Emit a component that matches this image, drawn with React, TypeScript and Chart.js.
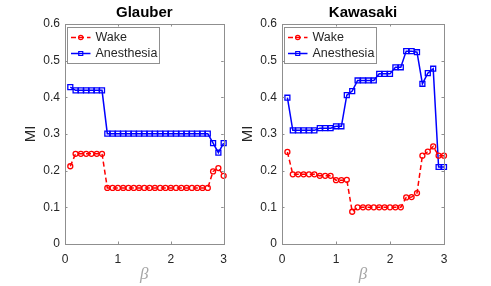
import React, { useEffect, useRef } from "react";
import { Chart, registerables } from "chart.js";

Chart.register(...registerables);

const beta = [0.1, 0.2, 0.3, 0.4, 0.5, 0.6, 0.7, 0.8, 0.9, 1.0, 1.1, 1.2, 1.3, 1.4, 1.5, 1.6, 1.7, 1.8, 1.9, 2.0, 2.1, 2.2, 2.3, 2.4, 2.5, 2.6, 2.7, 2.8, 2.9, 3.0];

const glauberWake = [0.212, 0.246, 0.246, 0.246, 0.246, 0.246, 0.246, 0.153, 0.153, 0.153, 0.153, 0.153, 0.153, 0.153, 0.153, 0.153, 0.153, 0.153, 0.153, 0.153, 0.153, 0.153, 0.153, 0.153, 0.153, 0.153, 0.153, 0.198, 0.207, 0.186];
const glauberAnesthesia = [0.428, 0.419, 0.419, 0.419, 0.419, 0.419, 0.419, 0.301, 0.301, 0.301, 0.301, 0.301, 0.301, 0.301, 0.301, 0.301, 0.301, 0.301, 0.301, 0.301, 0.301, 0.301, 0.301, 0.301, 0.301, 0.301, 0.301, 0.275, 0.249, 0.275];

const kawasakiWake = [0.251, 0.19, 0.19, 0.19, 0.19, 0.19, 0.186, 0.186, 0.186, 0.174, 0.174, 0.175, 0.088, 0.1, 0.1, 0.1, 0.1, 0.1, 0.1, 0.1, 0.1, 0.1, 0.127, 0.128, 0.139, 0.241, 0.252, 0.266, 0.241, 0.241];
const kawasakiAnesthesia = [0.399, 0.31, 0.31, 0.31, 0.31, 0.31, 0.316, 0.316, 0.316, 0.321, 0.321, 0.406, 0.417, 0.446, 0.446, 0.446, 0.446, 0.464, 0.464, 0.464, 0.482, 0.482, 0.526, 0.526, 0.523, 0.437, 0.466, 0.478, 0.21, 0.21];

const seriesLabels = ["Wake", "Anesthesia"];
const panelTitles = ["Glauber", "Kawasaki"];
const yTitle = "MI";
const xTitle = "β";

const FONT = "'Liberation Sans', Arial, Helvetica, sans-serif";
const TEXT = "#262626";
const BOX = "#8f8f8f";
const RED = "#ff0000";
const BLUE = "#0000ff";

const matlabPlugin = {
  id: "matlabDecor",
  afterDraw(chart: any) {
    const ctx = chart.ctx as CanvasRenderingContext2D;
    const a = chart.chartArea;
    const xs = chart.scales.x;
    const ys = chart.scales.y;
    const o = chart.options.plugins.matlabDecor || {};
    ctx.save();
    ctx.strokeStyle = BOX;
    ctx.lineWidth = 1;
    ctx.strokeRect(Math.round(a.left) + 0.5, Math.round(a.top) + 0.5, Math.round(a.right - a.left), Math.round(a.bottom - a.top));
    ctx.beginPath();
    const tl = 2.5;
    xs.ticks.forEach((t: any) => {
      const px = Math.round(xs.getPixelForValue(t.value)) + 0.5;
      ctx.moveTo(px, a.bottom);
      ctx.lineTo(px, a.bottom - tl);
      ctx.moveTo(px, a.top);
      ctx.lineTo(px, a.top + tl);
    });
    ys.ticks.forEach((t: any) => {
      const py = Math.round(ys.getPixelForValue(t.value)) + 0.5;
      ctx.moveTo(a.left, py);
      ctx.lineTo(a.left + tl, py);
      ctx.moveTo(a.right, py);
      ctx.lineTo(a.right - tl, py);
    });
    ctx.stroke();

    ctx.fillStyle = "#000";
    ctx.font = `bold 15px ${FONT}`;
    ctx.textAlign = "center";
    ctx.textBaseline = "middle";
    ctx.fillText(o.title || "", (a.left + a.right) / 2, 13);

    ctx.save();
    ctx.translate(a.left - 34, (a.top + a.bottom) / 2);
    ctx.rotate(-Math.PI / 2);
    ctx.fillStyle = TEXT;
    ctx.font = `15px ${FONT}`;
    ctx.fillText(yTitle, 0, 0);
    ctx.restore();

    ctx.fillStyle = "#a6a6a6";
    ctx.font = `italic 17px 'Liberation Serif', 'DejaVu Serif', serif`;
    ctx.textAlign = "center";
    ctx.textBaseline = "middle";
    ctx.fillText(xTitle, (a.left + a.right) / 2, 275);

    const lx = Math.round(a.left) + 2.5;
    const ly = Math.round(a.top) + 3.5;
    const lw = 92;
    const lh = 36;
    ctx.fillStyle = "#fff";
    ctx.fillRect(lx, ly, lw, lh);
    ctx.strokeStyle = BOX;
    ctx.lineWidth = 1;
    ctx.strokeRect(lx, ly, lw, lh);
    chart.data.datasets.forEach((ds: any, i: number) => {
      const cy = ly + 10 + i * 16;
      const x0 = lx + 3.5;
      const x1 = lx + 23;
      ctx.save();
      ctx.strokeStyle = ds.borderColor;
      ctx.lineWidth = ds.borderWidth;
      ctx.setLineDash(ds.borderDash || []);
      ctx.beginPath();
      ctx.moveTo(x0, cy);
      ctx.lineTo(x1, cy);
      ctx.stroke();
      ctx.setLineDash([]);
      ctx.lineWidth = 1.2;
      const cx = (x0 + x1) / 2;
      ctx.beginPath();
      if (ds.pointStyle === "rect") {
        ctx.rect(cx - 2, cy - 2, 4, 4);
      } else {
        ctx.arc(cx, cy, 2.2, 0, Math.PI * 2);
      }
      ctx.stroke();
      ctx.restore();
      ctx.fillStyle = TEXT;
      ctx.font = `12.5px ${FONT}`;
      ctx.textAlign = "left";
      ctx.textBaseline = "middle";
      ctx.fillText(ds.label, lx + 28, cy);
    });
    ctx.restore();
  },
};

function makeConfig(title: string, wake: number[], anes: number[], yWidth: number, padRight: number): any {
  return {
    type: "line",
    data: {
      datasets: [
        {
          label: seriesLabels[0],
          data: beta.map((b, i) => ({ x: b, y: wake[i] })),
          borderColor: RED,
          borderWidth: 1.5,
          borderDash: [5, 3],
          pointStyle: "circle",
          pointRadius: 2.5,
          pointBorderWidth: 1.3,
          pointBackgroundColor: "rgba(0,0,0,0)",
          pointBorderColor: RED,
          clip: false,
          tension: 0,
        },
        {
          label: seriesLabels[1],
          data: beta.map((b, i) => ({ x: b, y: anes[i] })),
          borderColor: BLUE,
          borderWidth: 1.5,
          pointStyle: "rect",
          pointRadius: 3.5,
          pointBorderWidth: 1.3,
          pointBackgroundColor: "rgba(0,0,0,0)",
          pointBorderColor: BLUE,
          clip: false,
          tension: 0,
        },
      ],
    },
    options: {
      animation: false,
      responsive: false,
      maintainAspectRatio: false,
      layout: { padding: { left: 0, right: padRight, top: 24, bottom: 0 } },
      scales: {
        x: {
          type: "linear",
          min: 0,
          max: 3,
          ticks: {
            stepSize: 1,
            padding: 8,
            color: TEXT,
            font: { family: FONT, size: 12 },
            maxRotation: 0,
            callback: (v: number) => String(v),
          },
          grid: { display: false, drawTicks: false },
          border: { display: false },
          afterFit: (s: any) => {
            s.height = 42;
          },
        },
        y: {
          type: "linear",
          min: 0,
          max: 0.6,
          ticks: {
            stepSize: 0.1,
            padding: 5,
            color: TEXT,
            font: { family: FONT, size: 12 },
            callback: (v: number) => (Math.abs(v) < 1e-9 ? "0" : Number(v).toFixed(1)),
          },
          grid: { display: false, drawTicks: false },
          border: { display: false },
          afterFit: (s: any) => {
            s.width = yWidth;
          },
        },
      },
      plugins: {
        legend: { display: false },
        tooltip: { enabled: false },
        matlabDecor: { title },
      },
    },
    plugins: [matlabPlugin],
  };
}

export default function App() {
  const leftRef = useRef<HTMLCanvasElement>(null);
  const rightRef = useRef<HTMLCanvasElement>(null);

  useEffect(() => {
    const c1 = new Chart(leftRef.current!, makeConfig(panelTitles[0], glauberWake, glauberAnesthesia, 65, 235 - 228));
    const c2 = new Chart(rightRef.current!, makeConfig(panelTitles[1], kawasakiWake, kawasakiAnesthesia, 282 - 235, 491 - 444));
    return () => {
      c1.destroy();
      c2.destroy();
    };
  }, []);

  return (
    <div style={{ position: "absolute", left: 0, top: 0, width: 491, height: 286, background: "#fff" }}>
      <canvas ref={leftRef} width={235} height={286} style={{ position: "absolute", left: 0, top: 0, width: 235, height: 286 }} />
      <canvas ref={rightRef} width={256} height={286} style={{ position: "absolute", left: 235, top: 0, width: 256, height: 286 }} />
    </div>
  );
}
